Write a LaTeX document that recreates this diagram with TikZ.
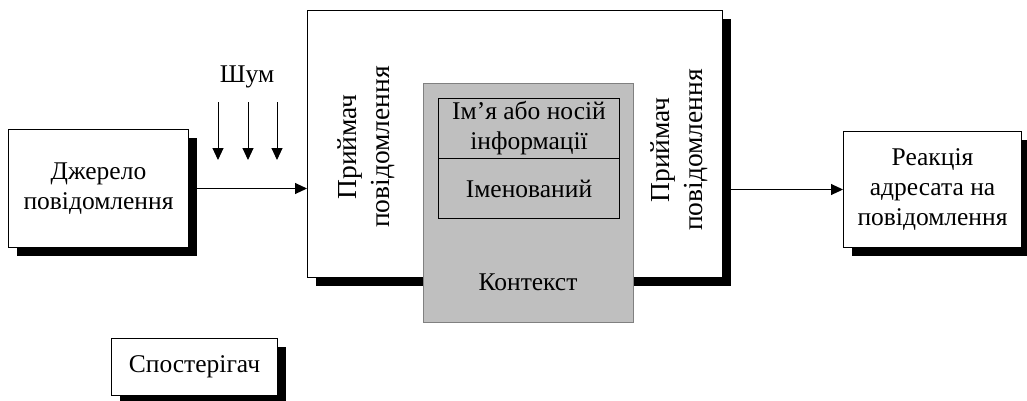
\documentclass[tikz,border=0pt]{standalone}
\usepackage{fontspec}
\setmainfont{Liberation Serif}
\usetikzlibrary{arrows.meta,shadows}
\begin{document}
\begin{tikzpicture}[x=1pt,y=-1pt,
  box/.style={draw, fill=white, line width=1pt, inner sep=0pt, anchor=north west,
    general shadow={fill=black, shadow xshift=8pt, shadow yshift=-8pt}},
  txt/.style={font=\fontsize{25.5}{30}\selectfont, align=center},
  rtxt/.style={font=\fontsize{27.5}{33}\selectfont, align=center, rotate=90},
  arr/.style={-{Triangle[length=12pt,width=11pt]}, line width=1pt},
  graybox/.style={fill=black!25, draw=black!50, line width=0.8pt, anchor=north west, inner sep=0pt},
  inner/.style={draw=black, line width=1pt, anchor=north west, inner sep=0pt}]
\useasboundingbox (0,0) rectangle (1027,400);

% source box
\node[box, minimum width=180pt, minimum height=118pt, txt] (src) at (8,129) {Джерело\\повідомлення};

% receiver (big box)
\node[box, minimum width=415pt, minimum height=267pt] (recv) at (307,10) {};

% grey context box
\node[graybox, minimum width=210pt, minimum height=239pt] (ctx) at (423,83) {};
\node[inner, minimum width=181pt, minimum height=60pt, txt] (name) at (438,98) {Ім’я або носій\\інформації};
\node[inner, minimum width=181pt, minimum height=60pt, txt] (named) at (438,158) {Іменований};
\node[txt] (ctxlbl) at (528,282) {Контекст};

% rotated labels
\node[rtxt] (recvL) at (366,147) {Приймач\\повідомлення};
\node[rtxt] (recvR) at (679,150) {Приймач\\повідомлення};

% destination
\node[box, minimum width=178pt, minimum height=116pt, txt] (dst) at (843,131) {Реакція\\адресата на\\повідомлення};

% observer
\node[box, minimum width=166pt, minimum height=57pt, txt] (obs) at (111,338) {Спостерігач};

% noise
\node[txt] (noise) at (247,77) {Шум};
\coordinate (n1s) at (218,102); \coordinate (n1e) at (218,160);
\coordinate (n2s) at (248,102); \coordinate (n2e) at (248,160);
\coordinate (n3s) at (277,102); \coordinate (n3e) at (277,160);
\draw[arr] (n1s) -- (n1e);
\draw[arr] (n2s) -- (n2e);
\draw[arr] (n3s) -- (n3e);

% connectors
\draw[arr] (src.east) -- (recv.west |- src.east);
\draw[arr] ([xshift=8pt]recv.east |- dst.west) -- (dst.west);
\end{tikzpicture}
\end{document}
